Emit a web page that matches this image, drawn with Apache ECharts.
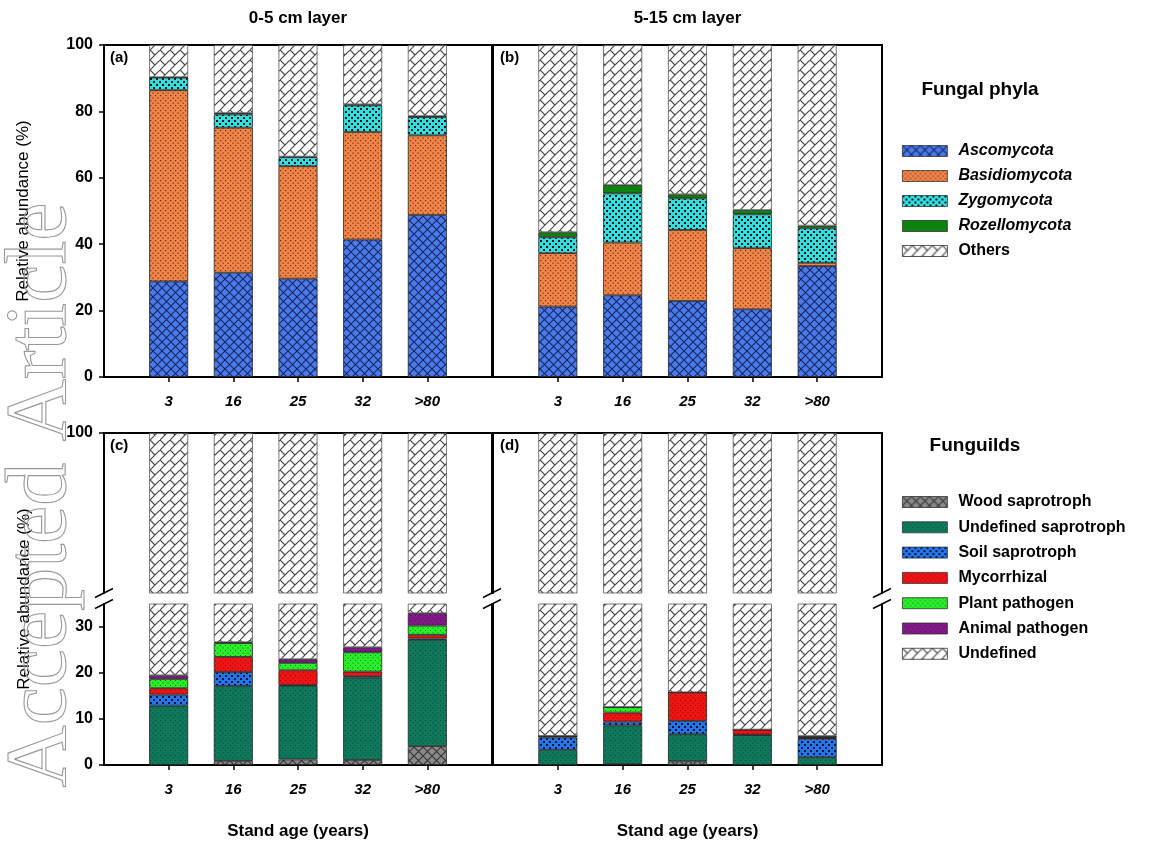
<!DOCTYPE html>
<html>
<head>
<meta charset="utf-8">
<script src="https://cdn.jsdelivr.net/npm/echarts@6/dist/echarts.min.js"></script>
<style>
  html, body { margin: 0; padding: 0; background: #fff; }
  #chart { width: 1158px; height: 852px; }
</style>
</head>
<body>
<div id="chart"></div>
<script>
// stand ages (x categories)
const ages = ['3', '16', '25', '32', '>80'];

// fungal phyla, 0-5 cm layer (a)
const ascoA = [28.8, 31.4, 29.6, 41.4, 48.8];
const basidA = [57.6, 43.7, 33.9, 32.4, 24.0];
const zygoA = [3.8, 4.0, 2.7, 8.0, 5.5];
const rozelA = [0.1, 0.4, 0.2, 0.3, 0.3];
const othersA = [9.7, 20.5, 33.6, 17.9, 21.4];

// fungal phyla, 5-15 cm layer (b)
const ascoB = [21.2, 24.6, 22.9, 20.4, 33.4];
const basidB = [16.1, 15.9, 21.4, 18.4, 1.0];
const zygoB = [4.8, 14.8, 9.5, 10.2, 10.4];
const rozelB = [1.5, 2.5, 1.2, 1.3, 0.8];
const othersB = [56.4, 42.2, 45.0, 49.7, 54.4];

// funguilds, 0-5 cm layer (c)
const woodC = [0, 0.9, 1.2, 1.1, 4.1];
const undefSapC = [12.9, 16.3, 16.0, 17.9, 23.1];
const soilC = [2.4, 3.0, 0.2, 0.3, 0.3];
const mycoC = [1.4, 3.3, 3.2, 1.0, 0.8];
const plantC = [2.0, 3.0, 1.6, 4.2, 2.0];
const animalC = [0.8, 0.2, 0.8, 1.1, 2.7];
const undefC = [80.5, 73.3, 77.0, 74.4, 67.0];

// funguilds, 5-15 cm layer (d)
const woodD = [0, 0.2, 0.8, 0, 0];
const undefSapD = [3.3, 8.4, 5.9, 6.5, 1.7];
const soilD = [2.7, 0.8, 2.9, 0.1, 4.0];
const mycoD = [0.3, 2.0, 6.2, 1.1, 0.2];
const plantD = [0, 1.2, 0, 0, 0.1];
const animalD = [0, 0, 0, 0, 0.3];
const undefD = [93.7, 87.4, 84.2, 92.3, 93.7];

const phylaNames = ['Ascomycota', 'Basidiomycota', 'Zygomycota', 'Rozellomycota', 'Others'];
const guildNames = ['Wood saprotroph', 'Undefined saprotroph', 'Soil saprotroph', 'Mycorrhizal',
                    'Plant pathogen', 'Animal pathogen', 'Undefined'];
const lowTicks = [0, 10, 20, 30];

// padded categories so the bars sit at 1..5 of a 0..6 axis
const cats = [''].concat(ages, ['']);
const pad = v => [null].concat(v, [null]);

// ---- fill patterns ----
function tile(s, bg, draw) {
    const c = document.createElement('canvas');
    c.width = s; c.height = s;
    const ctx = c.getContext('2d');
    ctx.fillStyle = bg;
    ctx.fillRect(0, 0, s, s);
    if (draw) draw(ctx, s);
    return { image: c, repeat: 'repeat' };
}
function cross(bg, lc, s) {
    return tile(s, bg, (ctx, s) => {
        ctx.strokeStyle = lc; ctx.lineWidth = 1.1;
        ctx.beginPath();
        ctx.moveTo(-1, -1); ctx.lineTo(s + 1, s + 1);
        ctx.moveTo(s + 1, -1); ctx.lineTo(-1, s + 1);
        ctx.stroke();
    });
}
function dots(bg, dc, s, r) {
    return tile(s, bg, (ctx, s) => {
        ctx.fillStyle = dc;
        ctx.fillRect(0, 0, r, r);
        ctx.fillRect(s / 2, s / 2, r, r);
    });
}
function bricks(s) {
    return tile(s, '#ffffff', (ctx, s) => {
        ctx.strokeStyle = '#4a4a4a'; ctx.lineWidth = 1.2;
        ctx.beginPath();
        ctx.moveTo(-1, s + 1); ctx.lineTo(s + 1, -1);
        ctx.moveTo(0, 0); ctx.lineTo(s / 2, s / 2);
        ctx.stroke();
    });
}

const phylaFill = [
    cross('#4a7aeb', '#17265e', 9),
    dots('#ef8548', '#6b2a10', 5, 1.2),
    dots('#33dede', '#0a1a1a', 6, 2),
    '#0e820e',
    bricks(10)
];
const guildFill = [
    cross('#8a8a8a', '#333333', 9),
    dots('#10795b', '#064433', 5, 1),
    dots('#2475ec', '#06183a', 6, 2),
    dots('#f01414', '#7a0a0a', 5, 1),
    dots('#2bee2b', '#0a6a0a', 5, 1),
    dots('#821a88', '#55095a', 5, 1),
    bricks(10)
];

const phylaA = [ascoA, basidA, zygoA, rozelA, othersA];
const phylaB = [ascoB, basidB, zygoB, rozelB, othersB];
const guildC = [woodC, undefSapC, soilC, mycoC, plantC, animalC, undefC];
const guildD = [woodD, undefSapD, soilD, mycoD, plantD, animalD, undefD];

// ---- layout ----
const L1 = 104, L2 = 493, W1 = 388, W2 = 389;
const TOP_T = 45, TOP_H = 332;
const UP_T = 433, UP_H = 160, LOW_T = 604, LOW_H = 161;
const font = 'Liberation Sans, Arial, sans-serif';
const lineStyle = { color: '#000', width: 2 };

const grid = [
    { left: L1, top: TOP_T, width: W1, height: TOP_H, show: true, borderColor: '#000', borderWidth: 2 },
    { left: L2, top: TOP_T, width: W2, height: TOP_H, show: true, borderColor: '#000', borderWidth: 2 },
    { left: L1, top: UP_T, width: W1, height: UP_H },
    { left: L1, top: LOW_T, width: W1, height: LOW_H },
    { left: L2, top: UP_T, width: W2, height: UP_H },
    { left: L2, top: LOW_T, width: W2, height: LOW_H }
];

function xBottom(gi, withName) {
    return {
        type: 'category', gridIndex: gi, data: cats, boundaryGap: false,
        axisLine: { show: true, lineStyle: lineStyle },
        axisTick: { show: true, length: 5, interval: (i, v) => v !== '', lineStyle: { color: '#000', width: 1.5 } },
        axisLabel: { interval: 0, margin: 17, color: '#000', fontSize: 15, fontWeight: 'bold', fontStyle: 'italic', fontFamily: font },
        splitLine: { show: false },
        name: withName ? 'Stand age (years)' : '',
        nameLocation: 'middle', nameGap: 58,
        nameTextStyle: { color: '#000', fontSize: 17, fontWeight: 'bold', fontFamily: font }
    };
}
function xTop(gi) {
    return {
        type: 'category', gridIndex: gi, data: cats, boundaryGap: false, position: 'top',
        axisLine: { show: true, lineStyle: lineStyle },
        axisTick: { show: false }, axisLabel: { show: false }, splitLine: { show: false }
    };
}
const labelStyle = { color: '#000', fontSize: 16, fontWeight: 'bold', fontFamily: font, margin: 11 };
function yLine(gi, pos, min, max) {
    return {
        type: 'value', gridIndex: gi, position: pos, min: min, max: max,
        axisLine: { show: true, lineStyle: lineStyle },
        axisTick: { show: false }, axisLabel: { show: false }, splitLine: { show: false }
    };
}

const xAxis = [xBottom(0, false), xBottom(1, false), xTop(2), xBottom(3, true), xTop(4), xBottom(5, true)];
const yAxis = [
    {
        type: 'value', gridIndex: 0, min: 0, max: 100, interval: 20,
        axisLine: { show: true, lineStyle: lineStyle },
        axisTick: { show: true, length: 5, lineStyle: { color: '#000', width: 1.5 } },
        axisLabel: labelStyle, splitLine: { show: false },
        name: 'Relative abundance (%)', nameLocation: 'middle', nameGap: 72,
        nameTextStyle: { color: '#000', fontSize: 17, fontFamily: font }
    },
    yLine(1, 'left', 0, 100),
    {
        type: 'value', gridIndex: 2, min: 65, max: 100,
        axisLine: { show: true, lineStyle: lineStyle },
        axisTick: { show: true, length: 5, customValues: [100], lineStyle: { color: '#000', width: 1.5 } },
        axisLabel: Object.assign({ customValues: [100] }, labelStyle), splitLine: { show: false }
    },
    yLine(2, 'right', 65, 100),
    {
        type: 'value', gridIndex: 3, min: 0, max: 35,
        axisLine: { show: true, lineStyle: lineStyle },
        axisTick: { show: true, length: 5, customValues: lowTicks, lineStyle: { color: '#000', width: 1.5 } },
        axisLabel: Object.assign({ customValues: lowTicks }, labelStyle), splitLine: { show: false }
    },
    yLine(3, 'right', 0, 35),
    yLine(4, 'left', 65, 100),
    yLine(4, 'right', 65, 100),
    yLine(5, 'left', 0, 35),
    yLine(5, 'right', 0, 35)
];

const series = [];
function addStack(names, fills, groups, xi, yi, stackId) {
    names.forEach((n, k) => {
        series.push({
            name: n, type: 'bar', stack: stackId, xAxisIndex: xi, yAxisIndex: yi,
            barWidth: 39, data: pad(groups[k]),
            itemStyle: {
                color: fills[k],
                borderColor: (k === names.length - 1) ? '#555' : '#222',
                borderWidth: 0.8
            },
            emphasis: { disabled: true }
        });
    });
}
addStack(phylaNames, phylaFill, phylaA, 0, 0, 'a');
addStack(phylaNames, phylaFill, phylaB, 1, 1, 'b');
addStack(guildNames, guildFill, guildC, 2, 2, 'cu');
addStack(guildNames, guildFill, guildC, 3, 4, 'cl');
addStack(guildNames, guildFill, guildD, 4, 6, 'du');
addStack(guildNames, guildFill, guildD, 5, 8, 'dl');

const legendText = { color: '#000', fontSize: 16, fontWeight: 'bold', fontFamily: font, lineHeight: 18, padding: [0, 0, 0, 6] };
const legendItem = { borderColor: '#333', borderWidth: 0.8 };
const legend = [
    {
        orient: 'vertical', left: 897, top: 137, itemWidth: 45, itemHeight: 11, itemGap: 7, icon: 'rect',
        selectedMode: false, textStyle: legendText, itemStyle: legendItem,
        data: phylaNames.map(n => ({ name: n, textStyle: { fontStyle: n === 'Others' ? 'normal' : 'italic' } }))
    },
    {
        orient: 'vertical', left: 897, top: 488, itemWidth: 45, itemHeight: 11, itemGap: 7.3, icon: 'rect',
        selectedMode: false, textStyle: legendText, itemStyle: legendItem, data: guildNames
    }
];

// decorations: titles, panel letters, axis-break marks, watermark
const graphic = [];
function txt(x, y, s, style, extra) {
    graphic.push(Object.assign({
        type: 'text', x: x, y: y, silent: true,
        style: Object.assign({ text: s, fill: '#000', fontFamily: font, align: 'center', verticalAlign: 'middle' }, style)
    }, extra || {}));
}
txt(L1 + W1 / 2, 18, '0-5 cm layer', { fontSize: 17, fontWeight: 'bold' });
txt(L2 + W2 / 2, 18, '5-15 cm layer', { fontSize: 17, fontWeight: 'bold' });
txt(L1 + 6, TOP_T + 13, '(a)', { fontSize: 15, fontWeight: 'bold', align: 'left' });
txt(L2 + 7, TOP_T + 13, '(b)', { fontSize: 15, fontWeight: 'bold', align: 'left' });
txt(L1 + 6, UP_T + 13, '(c)', { fontSize: 15, fontWeight: 'bold', align: 'left' });
txt(L2 + 7, UP_T + 13, '(d)', { fontSize: 15, fontWeight: 'bold', align: 'left' });
txt(980, 90, 'Fungal phyla', { fontSize: 19, fontWeight: 'bold' });
txt(975, 446, 'Funguilds', { fontSize: 19, fontWeight: 'bold' });
txt(24, (UP_T + LOW_T + LOW_H) / 2, 'Relative abundance (%)', { fontSize: 17 }, { rotation: Math.PI / 2 });

[L1, L2 - 1, L2 + W2].forEach(x => {
    [LOW_T, UP_T + UP_H].forEach(y => {
        graphic.push({
            type: 'line', silent: true,
            shape: { x1: x - 9, y1: y + 4.5, x2: x + 9, y2: y - 4.5 },
            style: { stroke: '#000', lineWidth: 1.5 }
        });
    });
});

graphic.push({
    type: 'text', x: 42, y: 495, rotation: Math.PI / 2, silent: true, z: 100,
    style: {
        text: 'Accepted Article', fontFamily: 'Liberation Serif, DejaVu Serif, serif', fontSize: 86,
        fill: 'rgba(0,0,0,0)', stroke: '#999999', lineWidth: 1.1, align: 'center', verticalAlign: 'middle'
    }
});

const chart = echarts.init(document.getElementById('chart'));
chart.setOption({
    animation: false,
    backgroundColor: '#fff',
    grid: grid,
    xAxis: xAxis,
    yAxis: yAxis,
    legend: legend,
    series: series,
    graphic: graphic
});

window.addEventListener('resize', function () {
    chart.resize();
});
</script>
</body>
</html>
